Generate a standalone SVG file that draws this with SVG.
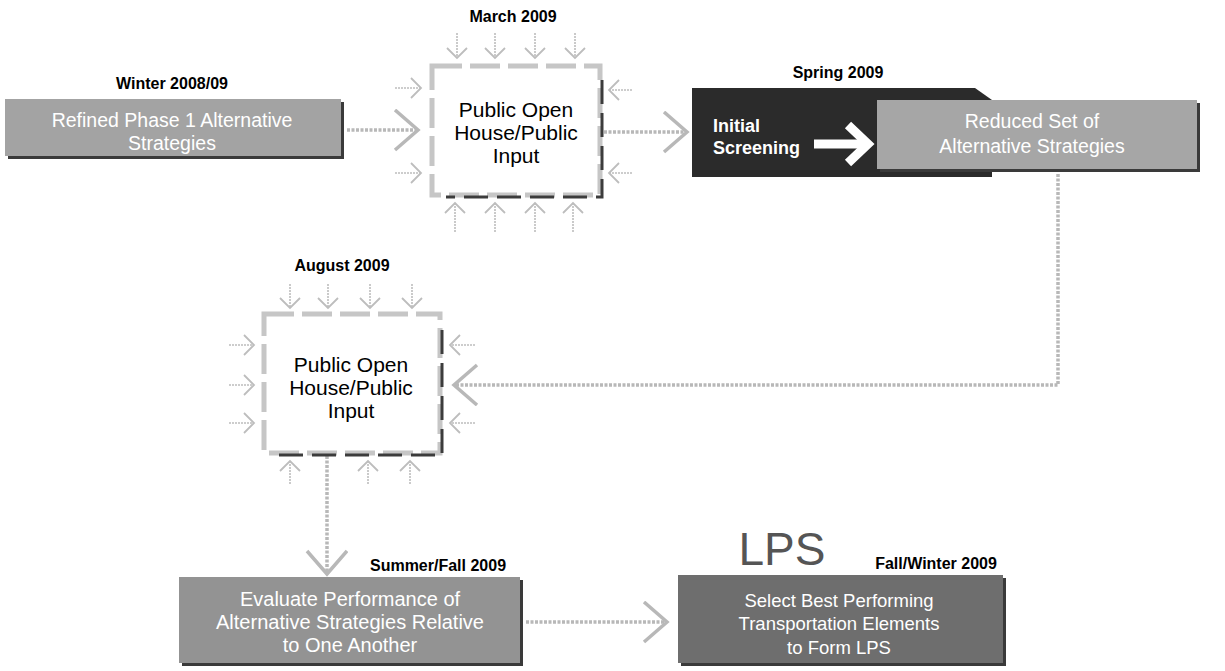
<svg xmlns="http://www.w3.org/2000/svg" width="1225" height="671" viewBox="0 0 1225 671">
<style>
.lbl{font-family:"Liberation Sans",Arial,sans-serif;font-weight:bold;font-size:16px;fill:#000;text-anchor:middle}
.wt{font-family:"Liberation Sans",Arial,sans-serif;fill:#fff;text-anchor:middle}
.bt{font-family:"Liberation Sans",Arial,sans-serif;fill:#000;text-anchor:middle;font-size:21px}
.shadow{fill:#3a3a3a}
.conn{fill:none;stroke:#b8b8b8;stroke-width:3.5;stroke-dasharray:3 1.5}
.sm{fill:none;stroke:#bdbdbd;stroke-width:1.6;stroke-dasharray:2 1}
.pbox{fill:#fff;stroke:#c6c6c6;stroke-width:5;stroke-dasharray:30 8}
.pedge{fill:none;stroke:#3c3c3c;stroke-width:3;stroke-dasharray:24 9}
</style>
<defs>
<marker id="big" markerUnits="userSpaceOnUse" markerWidth="30" markerHeight="44" refX="25" refY="21" orient="auto">
<path d="M2,1 L25,21 L2,41" fill="none" stroke="#b8b8b8" stroke-width="3.5"/>
</marker>
<marker id="small" markerUnits="userSpaceOnUse" markerWidth="14" markerHeight="24" refX="11" refY="11" orient="auto">
<path d="M1,1 L11,11 L1,21" fill="none" stroke="#bdbdbd" stroke-width="1.8"/>
</marker>
</defs>
<rect width="1225" height="671" fill="#fff"/>

<g id="connectors">
<path class="conn" d="M347,130 H418" marker-end="url(#big)"/>
<path class="conn" d="M604,132 H687" marker-end="url(#big)"/>
<path class="conn" d="M1058,174 V385 H454" marker-end="url(#big)"/>
<path class="conn" d="M327,456 V574" marker-end="url(#big)"/>
<path class="conn" d="M526,622 H667" marker-end="url(#big)"/>
</g>

<g id="refined">
<text class="lbl" x="172" y="89">Winter 2008/09</text>
<rect class="shadow" x="8" y="102" width="336" height="57"/>
<rect x="5" y="99" width="336" height="57" fill="#a3a3a3"/>
<text class="wt" font-size="19.5"><tspan x="172" y="127">Refined Phase 1 Alternative</tspan><tspan x="172" y="150">Strategies</tspan></text>
</g>

<g id="march">
<text class="lbl" x="513" y="22">March 2009</text>
<g class="sm" marker-end="url(#small)">
<path d="M457,33 V58"/><path d="M495,33 V58"/><path d="M535,33 V58"/><path d="M575,33 V58"/>
<path d="M455,232 V203"/><path d="M495,232 V203"/><path d="M535,232 V203"/><path d="M573,232 V203"/>
<path d="M395,88 H421"/><path d="M395,173 H421"/>
<path d="M632,90 H609"/><path d="M632,173 H609"/>
</g>
<rect class="pbox" x="432" y="66" width="168" height="129"/>
<path class="pedge" d="M602,80 V197 H446"/>
<text class="bt"><tspan x="516" y="117">Public Open</tspan><tspan x="516" y="140">House/Public</tspan><tspan x="516" y="163">Input</tspan></text>
</g>

<g id="spring">
<text class="lbl" x="838" y="78">Spring 2009</text>
<polygon points="692,88 975,88 992,100 992,177 692,177" fill="#2b2b2b"/>
<text class="wt" font-size="18" font-weight="bold" text-anchor="start"><tspan x="713" y="132" text-anchor="start">Initial</tspan><tspan x="713" y="154" text-anchor="start">Screening</tspan></text>
<path d="M814,144 H862" stroke="#fff" stroke-width="9" fill="none"/>
<path d="M848,125 L868,144 L848,163" stroke="#fff" stroke-width="9" fill="none"/>
<rect class="shadow" x="880" y="103" width="320" height="69"/>
<rect x="877" y="100" width="320" height="69" fill="#a6a6a6"/>
<text class="wt" font-size="19.5"><tspan x="1032" y="128">Reduced Set of</tspan><tspan x="1032" y="153">Alternative Strategies</tspan></text>
</g>

<g id="august">
<text class="lbl" x="342" y="271">August 2009</text>
<g class="sm" marker-end="url(#small)">
<path d="M290,284 V308"/><path d="M328,284 V308"/><path d="M370,284 V308"/><path d="M412,284 V308"/>
<path d="M229,345 H254"/><path d="M229,385 H254"/><path d="M229,423 H254"/>
<path d="M475,345 H450"/><path d="M475,423 H450"/>
<path d="M290,484 V461"/><path d="M368,484 V461"/><path d="M410,484 V461"/>
</g>
<rect class="pbox" x="264" y="314" width="176" height="139"/>
<path class="pedge" d="M442,330 V455 H278"/>
<text class="bt"><tspan x="351" y="372">Public Open</tspan><tspan x="351" y="395">House/Public</tspan><tspan x="351" y="418">Input</tspan></text>
</g>

<g id="evaluate">
<text class="lbl" x="438" y="571">Summer/Fall 2009</text>
<rect class="shadow" x="182" y="580" width="341" height="86"/>
<rect x="179" y="577" width="341" height="86" fill="#939393"/>
<text class="wt" font-size="20"><tspan x="350" y="606">Evaluate Performance of</tspan><tspan x="350" y="629">Alternative Strategies Relative</tspan><tspan x="350" y="652">to One Another</tspan></text>
</g>

<g id="select">
<text x="782" y="565" font-family="'Liberation Sans',Arial,sans-serif" font-size="46" fill="#555" text-anchor="middle">LPS</text>
<text class="lbl" x="936" y="569">Fall/Winter 2009</text>
<rect class="shadow" x="681" y="578" width="325" height="88"/>
<rect x="678" y="575" width="325" height="88" fill="#6e6e6e"/>
<text class="wt" font-size="18.5"><tspan x="839" y="607">Select Best Performing</tspan><tspan x="839" y="630">Transportation Elements</tspan><tspan x="839" y="654">to Form LPS</tspan></text>
</g>
</svg>
